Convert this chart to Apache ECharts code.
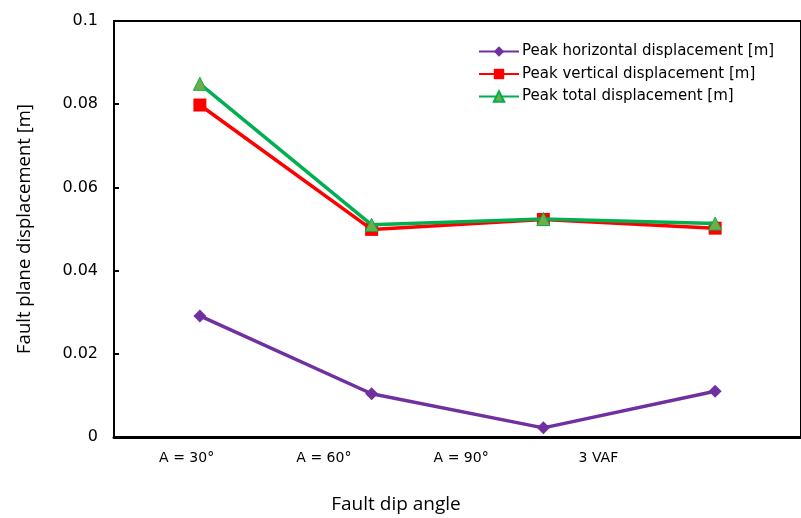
<!DOCTYPE html>
<html>
<head>
<meta charset="utf-8">
<script src="https://cdn.jsdelivr.net/npm/echarts@6/dist/echarts.min.js"></script>
<style>
  html, body { margin: 0; padding: 0; background: #fff; }
  #chart { width: 801px; height: 518px; }
</style>
</head>
<body>
<div id="chart"></div>
<script>
// Fault dip cases on the x axis
var categories = ['A = 30°', 'A = 60°', 'A = 90°', '3 VAF'];

// Peak displacements on the fault plane [m]
var horizontal = [0.0291, 0.0104, 0.0022, 0.0110];
var vertical   = [0.0798, 0.0499, 0.0523, 0.0502];
var total      = [0.0849, 0.0510, 0.0524, 0.0513];

var yTicks = { min: 0, max: 0.1, interval: 0.02 };

var chart = echarts.init(document.getElementById('chart'), null, { renderer: 'canvas' });

chart.setOption({
  animation: false,
  backgroundColor: '#ffffff',
  grid: [
    {
      left: 114, top: 21, right: -5, bottom: 81,
      show: true, borderColor: '#000', borderWidth: 2, backgroundColor: 'transparent'
    },
    // narrower band used only to lay out the category labels
    { left: 118, top: 21, right: 134, bottom: 81, show: false }
  ],
  legend: {
    orient: 'vertical',
    left: 478, top: 44, padding: 0,
    itemWidth: 40, itemHeight: 13, itemGap: 7.5,
    textStyle: { fontFamily: 'DejaVu Sans', fontSize: 15, color: '#000', padding: [0, 0, 0, -2] },
    data: ['Peak horizontal displacement [m]', 'Peak vertical displacement [m]', 'Peak total displacement [m]']
  },
  xAxis: [
    {
      type: 'category',
      gridIndex: 0,
      data: categories,
      boundaryGap: true,
      axisLine: { lineStyle: { color: '#000', width: 3 } },
      axisTick: { show: false },
      axisLabel: { show: false }
    },
    {
      type: 'category',
      gridIndex: 1,
      data: categories,
      boundaryGap: true,
      axisLine: { show: false },
      axisTick: { show: false },
      axisLabel: { color: '#000', fontFamily: 'DejaVu Sans', fontSize: 14, margin: 14 }
    }
  ],
  yAxis: [
    {
      type: 'value',
      gridIndex: 0,
      min: yTicks.min, max: yTicks.max, interval: yTicks.interval,
      name: 'Fault plane displacement [m]',
      nameLocation: 'middle',
      nameGap: 80,
      nameTextStyle: { fontFamily: 'Open Sans', fontSize: 18.5, color: '#000' },
      axisLine: { show: true, lineStyle: { color: '#000', width: 2 } },
      axisTick: { show: true, inside: true, length: 5, lineStyle: { color: '#000', width: 2 } },
      splitLine: { show: false },
      axisLabel: {
        color: '#000', fontFamily: 'DejaVu Sans', fontSize: 16, margin: 16,
        formatter: function (v) { return String(+v.toFixed(2)); }
      }
    },
    {
      type: 'value',
      gridIndex: 1,
      show: false,
      min: yTicks.min, max: yTicks.max, interval: yTicks.interval
    }
  ],
  graphic: [{
    type: 'text',
    x: 396, y: 505,
    style: {
      text: 'Fault dip angle', font: '19px "Open Sans"', fill: '#000',
      textAlign: 'center', textVerticalAlign: 'middle'
    }
  }],
  series: [
    {
      name: 'Peak horizontal displacement [m]',
      type: 'line',
      data: horizontal,
      symbol: 'diamond', symbolSize: 13,
      lineStyle: { color: '#7030A0', width: 3.5 },
      itemStyle: { color: '#7030A0' },
      z: 3
    },
    {
      name: 'Peak vertical displacement [m]',
      type: 'line',
      data: vertical,
      symbol: 'rect', symbolSize: 13,
      lineStyle: { color: '#FF0000', width: 3.5 },
      itemStyle: { color: '#FF0000' },
      z: 4
    },
    {
      name: 'Peak total displacement [m]',
      type: 'line',
      data: total,
      symbol: 'triangle', symbolSize: 13,
      lineStyle: { color: '#00B050', width: 3.5 },
      itemStyle: { color: '#70AD47', borderColor: '#00B050', borderWidth: 1 },
      z: 5
    }
  ]
});
</script>
</body>
</html>
